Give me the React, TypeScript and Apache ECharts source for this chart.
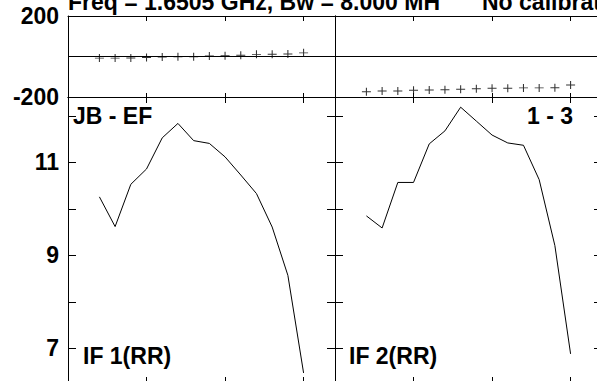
import React, { useEffect, useRef } from 'react';
import * as echarts from 'echarts';

const channels = [2, 3, 4, 5, 6, 7, 8, 9, 10, 11, 12, 13, 14, 15];
const phaseIF1 = [-8, -8, -7, -5, -2.5, -1.5, -1.5, 2.5, 4, 6.5, 10.5, 11.5, 12.5, 18];
const phaseIF2 = [-174, -170, -170, -167, -165, -164, -162, -159, -157, -157, -155, -155, -154, -141];
const ampIF1 = [10.26, 9.62, 10.53, 10.86, 11.53, 11.84, 11.47, 11.41, 11.12, 10.73, 10.33, 9.61, 8.57, 6.47];
const ampIF2 = [9.85, 9.59, 10.57, 10.57, 11.4, 11.68, 12.19, 11.89, 11.59, 11.42, 11.37, 10.63, 9.21, 6.88];

const phaseTicks = [-200, 200];
const ampTicks = [7, 8, 9, 10, 11, 12];
const ampLabels = [7, 9, 11];
const titleLeft = 'Freq = 1.6505 GHz, Bw = 8.000 MH';
const titleRight = 'No calibration';
const baselineName = 'JB - EF';
const stationPair = '1 - 3';
const ifNames = ['IF 1(RR)', 'IF 2(RR)'];

const FONT = 'Liberation Sans, Arial, Helvetica, sans-serif';

export default function App() {
  const ref = useRef<HTMLDivElement>(null);
  useEffect(() => {
    document.documentElement.style.overflow = 'hidden';
    document.body.style.margin = '0';
    document.body.style.overflow = 'hidden';
    const chart = echarts.init(ref.current!, undefined, { renderer: 'svg' });
    const grids = [
      { left: 68, top: 16, width: 267, height: 81 },
      { left: 335, top: 16, width: 267, height: 81 },
      { left: 68, top: 97, width: 267, height: 285 },
      { left: 335, top: 97, width: 267, height: 285 },
    ];
    const tickLen = [
      [4, 5],
      [4, 5],
      [5, 6],
      [5, 6],
    ];
    const line = { show: true, onZero: false, lineStyle: { color: '#000', width: 1 } };
    const xAxis: any[] = [];
    const yAxis: any[] = [];
    grids.forEach((_, g) => {
      ['bottom', 'top'].forEach((pos, k) => {
        xAxis.push({
          type: 'value',
          gridIndex: g,
          position: pos,
          min: 0,
          max: 17,
          interval: 5,
          axisLine: line,
          axisTick: { show: true, inside: true, length: tickLen[g][k], lineStyle: { color: '#000' } },
          axisLabel: { show: false },
          splitLine: { show: false },
        });
      });
      const isPhase = g < 2;
      ['left', 'right'].forEach((pos) => {
        const showLabel = pos === 'left' && (g === 0 || g === 2);
        yAxis.push({
          type: 'value',
          gridIndex: g,
          position: pos,
          min: isPhase ? -200 : 6.275,
          max: isPhase ? 200 : 12.409,
          axisLine: line,
          axisTick: {
            show: true,
            inside: true,
            length: 8,
            customValues: isPhase ? phaseTicks : ampTicks,
            lineStyle: { color: '#000' },
          },
          axisLabel: {
            show: showLabel,
            customValues: isPhase ? phaseTicks : ampLabels,
            color: '#000',
            fontFamily: FONT,
            fontWeight: 'bold',
            fontSize: 23,
            margin: 9,
          },
          splitLine: { show: false },
        });
      });
    });
    const toPts = (vals: number[]) => channels.map((c, i) => [c, vals[i]]);
    const cross = 'path://M0,5L10,5M5,0L5,10';
    const phaseSeries = (vals: number[], g: number) => ({
      type: 'scatter',
      xAxisIndex: 2 * g,
      yAxisIndex: 2 * g,
      data: toPts(vals),
      symbol: cross,
      symbolSize: [9, 8],
      itemStyle: { color: 'rgba(0,0,0,0)', borderColor: '#000', borderWidth: 1 },
      markLine: {
        silent: true,
        symbol: 'none',
        label: { show: false },
        lineStyle: { color: '#000', width: 1, type: 'solid' },
        data: [{ yAxis: 0 }],
      },
    });
    const ampSeries = (vals: number[], g: number) => ({
      type: 'line',
      xAxisIndex: 2 * g,
      yAxisIndex: 2 * g,
      data: toPts(vals),
      showSymbol: false,
      symbol: 'none',
      lineStyle: { color: '#000', width: 1 },
    });
    const textStyle = (text: string, x: number, y: number, align = 'left') => ({
      type: 'text',
      x,
      y,
      style: {
        text,
        fill: '#000',
        font: `bold 23px ${FONT}`,
        textAlign: align,
        textVerticalAlign: 'middle',
      },
    });
    chart.setOption({
      animation: false,
      backgroundColor: '#fff',
      grid: grids,
      xAxis,
      yAxis,
      series: [
        phaseSeries(phaseIF1, 0),
        phaseSeries(phaseIF2, 1),
        ampSeries(ampIF1, 2),
        ampSeries(ampIF2, 3),
      ],
      graphic: [
        textStyle(titleLeft, 68, 1.5),
        textStyle(titleRight, 482, 1.5),
        textStyle(baselineName, 73, 116),
        textStyle(stationPair, 573, 116, 'right'),
        textStyle(ifNames[0], 83, 356),
        textStyle(ifNames[1], 349, 356),
      ],
    });
    return () => chart.dispose();
  }, []);
  return <div ref={ref} style={{ position: 'fixed', left: 0, top: 0, width: 612, height: 392 }} />;
}
